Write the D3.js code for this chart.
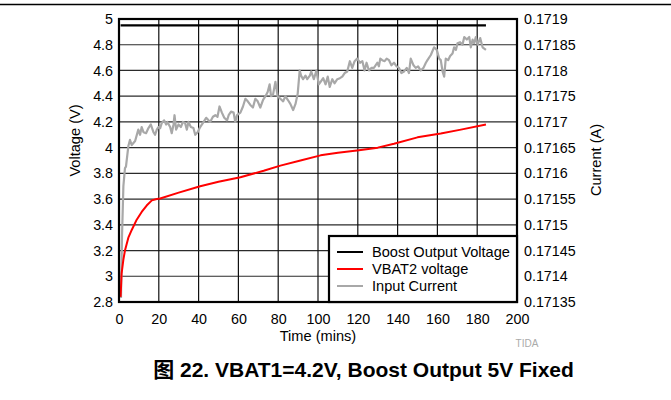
<!DOCTYPE html>
<html>
<head>
<meta charset="utf-8">
<script src="https://cdn.jsdelivr.net/npm/d3@7"></script>
<style>
  body { margin: 0; background: #fff; }
  svg { display: block; font-family: "Liberation Sans", Arial, "Noto Sans CJK SC", sans-serif; }
</style>
</head>
<body>
<div id="chart"></div>
<script>
// chart values
var voltTicks = [2.8, 3, 3.2, 3.4, 3.6, 3.8, 4, 4.2, 4.4, 4.6, 4.8, 5];
var currTicks = [0.17135, 0.1714, 0.17145, 0.1715, 0.17155, 0.1716, 0.17165, 0.1717, 0.17175, 0.1718, 0.17185, 0.1719];
var currTickLabels = ["0.17135", "0.1714", "0.17145", "0.1715", "0.17155", "0.1716", "0.17165", "0.1717", "0.17175", "0.1718", "0.17185", "0.1719"];
var timeTicks = [0, 20, 40, 60, 80, 100, 120, 140, 160, 180, 200];

var boostTime = [0.8, 60, 120, 184.4];
var boostVolt = [4.95, 4.95, 4.95, 4.95];

var vbatTime = [0.8, 1.3, 2.2, 3.0, 4.7, 6.4, 8.9, 11.4, 13.9, 16.5, 19.0, 20.7, 30, 40.8, 50, 61.0, 72.7, 81.1, 91.2, 101.3, 110, 120.6, 130, 138.2, 150.0, 161.7, 171.8, 184.4];
var vbatVolt = [2.84, 3.02, 3.13, 3.20, 3.30, 3.36, 3.44, 3.50, 3.55, 3.59, 3.60, 3.605, 3.65, 3.70, 3.735, 3.77, 3.82, 3.86, 3.90, 3.94, 3.96, 3.98, 4.00, 4.03, 4.08, 4.11, 4.14, 4.18];

var currTime = [1.0, 1.5, 2.2, 3.0, 3.5, 4.7, 5.5, 6.4, 8.1, 9.7, 10.6, 11.4, 12.3, 13.6, 14.8, 16.0, 17.3, 18.1, 19.0, 19.8,
  20.7, 21.5, 22.7, 23.7, 24.3, 25.7, 26.5, 27.4, 27.9, 28.7, 29.9, 31.1, 32.1, 33.2, 34.1, 34.9, 36.1, 37.4, 38.3, 39.5,
  40.8, 42.2, 43.8, 45.0, 45.8, 47.2, 48.4, 49.5, 50.5, 51.7, 52.9, 54.3, 55.1, 56.3, 57.6, 58.4, 59.3, 61.0, 62.3, 63.5,
  64.7, 66.0, 67.3, 68.5, 69.7, 71.0, 72.4, 73.6, 74.7, 75.7, 76.4, 77.4, 78.6, 79.7, 81.1, 82.5, 83.6, 84.8, 86.1, 87.5,
  88.7, 89.8, 90.8, 91.5, 92.5, 93.7, 94.6, 95.9, 96.6, 97.9, 99.2, 100.4, 101.3, 102.6, 103.8, 104.9, 105.9, 107.2, 108.3, 109.7,
  111.0, 112.2, 113.4, 114.7, 116.0, 117.2, 118.4, 119.7, 121.1, 122.3, 123.4, 124.4, 125.6, 126.8, 128.1, 129.8, 130.6, 131.3, 132.3, 133.5,
  134.5, 135.7, 136.9, 138.2, 139.5, 140.7, 141.9, 143.2, 144.6, 145.7, 146.6, 148.0, 149.1, 150.3, 151.6, 153.0, 154.2, 155.0, 156.7, 158.3,
  159.7, 160.9, 161.7, 162.6, 163.4, 164.2, 165.4, 166.4, 167.6, 168.4, 169.3, 170.1, 171.4, 172.6, 173.5, 174.8, 176.0, 176.8, 177.7, 178.5,
  179.3, 180.2, 181.5, 182.7, 184.4];
var currAmp = [0.171358, 0.171475, 0.171575, 0.17161, 0.171613, 0.171653, 0.171665, 0.171655, 0.171663, 0.171685, 0.171675, 0.17169, 0.17168, 0.171678, 0.171688, 0.171695, 0.17168, 0.171675, 0.171685, 0.17169,
  0.171688, 0.171698, 0.171703, 0.171695, 0.1717, 0.17169, 0.171678, 0.171695, 0.171713, 0.171685, 0.171695, 0.17169, 0.1717, 0.171698, 0.171685, 0.1717, 0.17169, 0.171688, 0.171675, 0.17168,
  0.17169, 0.171698, 0.171708, 0.171703, 0.1717, 0.17171, 0.171713, 0.17171, 0.17173, 0.171718, 0.171708, 0.171703, 0.171713, 0.17172, 0.171718, 0.1717, 0.171713, 0.171718, 0.17173, 0.171745,
  0.17174, 0.171733, 0.171728, 0.171745, 0.17174, 0.171728, 0.171743, 0.17175, 0.171758, 0.171773, 0.17175, 0.171753, 0.171778, 0.17175, 0.171745, 0.17174, 0.17175, 0.171743, 0.171735, 0.171723,
  0.171735, 0.171755, 0.1718, 0.17179, 0.171783, 0.17179, 0.171783, 0.17179, 0.171798, 0.171783, 0.1718, 0.171773, 0.171778, 0.171785, 0.171773, 0.171788, 0.171768, 0.171783, 0.171775, 0.171783,
  0.171785, 0.171788, 0.171795, 0.171798, 0.171818, 0.171805, 0.171818, 0.171823, 0.171815, 0.171818, 0.1718, 0.171815, 0.1718, 0.171805, 0.171805, 0.171815, 0.171808, 0.171823, 0.17182, 0.171818,
  0.171823, 0.17182, 0.17181, 0.171815, 0.171808, 0.171805, 0.171795, 0.171798, 0.171805, 0.171795, 0.171823, 0.17181, 0.171805, 0.171808, 0.1718, 0.171805, 0.171815, 0.17182, 0.17183, 0.171845,
  0.17184, 0.171823, 0.17182, 0.171798, 0.171788, 0.171823, 0.17182, 0.171828, 0.171833, 0.171845, 0.17184, 0.171853, 0.171855, 0.17185, 0.171865, 0.17186, 0.171865, 0.171845, 0.17186, 0.171853,
  0.171865, 0.17185, 0.171863, 0.171845, 0.17184];

var legendNames = ["Boost Output Voltage", "VBAT2 voltage", "Input Current"];
var legendColors = ["#000000", "#ff0000", "#a8a8a8"];

var svgWidth = 671;
var svgHeight = 400;
var margin = { top: 19, right: 154, bottom: 98, left: 119 };
var width = svgWidth - margin.left - margin.right;   // 398
var height = svgHeight - margin.top - margin.bottom; // 283

var svg = d3.select("#chart")
  .append("svg")
  .attr("width", svgWidth)
  .attr("height", svgHeight);

// page header rule
svg.append("line")
  .attr("x1", 0).attr("x2", svgWidth)
  .attr("y1", 4.5).attr("y2", 4.5)
  .attr("stroke", "#000").attr("stroke-width", 1.3);

var chartGroup = svg.append("g")
  .attr("transform", `translate(${margin.left}, ${margin.top})`);

// scales
var xScale = d3.scaleLinear().domain([0, 200]).range([0, width]);
var yVolt = d3.scaleLinear().domain([2.8, 5]).range([height, 0]);
var yCurr = d3.scaleLinear().domain([0.17135, 0.1719]).range([height, 0]);

// grid
chartGroup.selectAll(".hgrid")
  .data(voltTicks)
  .enter()
  .append("line")
  .attr("x1", 0).attr("x2", width)
  .attr("y1", d => yVolt(d)).attr("y2", d => yVolt(d))
  .attr("stroke", "#2b2b2b").attr("stroke-width", 1.2);

chartGroup.selectAll(".vgrid")
  .data(timeTicks)
  .enter()
  .append("line")
  .attr("y1", 0).attr("y2", height)
  .attr("x1", d => xScale(d)).attr("x2", d => xScale(d))
  .attr("stroke", "#111").attr("stroke-width", 1.2);

// axes
var leftAxis = d3.axisLeft(yVolt).tickValues(voltTicks).tickSize(0).tickPadding(6)
  .tickFormat(d => String(d));
var rightAxis = d3.axisRight(yCurr).tickValues(currTicks).tickSize(0).tickPadding(7)
  .tickFormat((d, i) => currTickLabels[i]);
var bottomAxis = d3.axisBottom(xScale).tickValues(timeTicks).tickSize(0).tickPadding(12)
  .tickFormat(d => String(d));

function styleAxis(g) {
  g.select(".domain").remove();
  g.selectAll("text").attr("font-size", 14.3).attr("fill", "#000")
    .attr("font-family", "\"Liberation Sans\", Arial, sans-serif");
}

chartGroup.append("g").call(leftAxis).call(styleAxis);
chartGroup.append("g").attr("transform", `translate(${width}, 0)`).call(rightAxis).call(styleAxis);
chartGroup.append("g").attr("transform", `translate(0, ${height})`).call(bottomAxis).call(styleAxis);

// lines
var lineV = function(times, vals) {
  return d3.line().x((d, i) => xScale(times[i])).y(d => yVolt(d))(vals);
};
var lineI = d3.line().x((d, i) => xScale(currTime[i])).y(d => yCurr(d));

chartGroup.append("path")
  .attr("d", lineI(currAmp))
  .attr("fill", "none").attr("stroke", legendColors[2]).attr("stroke-width", 2.2)
  .attr("stroke-linejoin", "round");

chartGroup.append("path")
  .attr("d", lineV(vbatTime, vbatVolt))
  .attr("fill", "none").attr("stroke", legendColors[1]).attr("stroke-width", 2)
  .attr("stroke-linejoin", "round");

chartGroup.append("path")
  .attr("d", lineV(boostTime, boostVolt))
  .attr("fill", "none").attr("stroke", legendColors[0]).attr("stroke-width", 2.2);

// frame
chartGroup.append("rect")
  .attr("x", 0).attr("y", 0).attr("width", width).attr("height", height)
  .attr("fill", "none").attr("stroke", "#000").attr("stroke-width", 2.2);

// legend
var legend = chartGroup.append("g")
  .attr("transform", `translate(${329 - margin.left}, ${236 - margin.top})`);

legend.append("rect")
  .attr("x", 0).attr("y", 0).attr("width", width - (329 - margin.left)).attr("height", height - (236 - margin.top))
  .attr("fill", "#fff").attr("stroke", "#000").attr("stroke-width", 2.2);

var items = legend.selectAll(".item")
  .data(legendNames)
  .enter()
  .append("g")
  .attr("transform", (d, i) => `translate(0, ${16 + i * 17})`);

items.append("line")
  .attr("x1", 8).attr("x2", 34).attr("y1", 0).attr("y2", 0)
  .attr("stroke", (d, i) => legendColors[i]).attr("stroke-width", 2);

items.append("text")
  .attr("x", 43).attr("y", 0).attr("dy", "0.35em")
  .attr("font-size", 14.6)
  .text(d => d);

// axis titles
chartGroup.append("text")
  .attr("transform", "rotate(-90)")
  .attr("x", 0 - (height / 2) + 20)
  .attr("y", 75 - margin.left)
  .attr("dy", "0.35em")
  .attr("text-anchor", "middle")
  .attr("font-size", 14.6)
  .text("Voltage (V)");

chartGroup.append("text")
  .attr("transform", `translate(${596 - margin.left}, ${160 - margin.top}) rotate(-90)`)
  .attr("dy", "0.35em")
  .attr("text-anchor", "middle")
  .attr("font-size", 14.6)
  .text("Current (A)");

chartGroup.append("text")
  .attr("x", 318 - margin.left)
  .attr("y", 336 - margin.top)
  .attr("dy", "0.35em")
  .attr("text-anchor", "middle")
  .attr("font-size", 14.6)
  .text("Time (mins)");

svg.append("text")
  .attr("x", 527).attr("y", 343)
  .attr("dy", "0.35em")
  .attr("text-anchor", "middle")
  .attr("font-size", 10)
  .attr("fill", "#aaa")
  .text("TIDA");

svg.append("text")
  .attr("x", 363.5).attr("y", 370)
  .attr("dy", "0.35em")
  .attr("text-anchor", "middle")
  .attr("font-size", 21)
  .attr("font-weight", "bold")
  .text("图 22. VBAT1=4.2V, Boost Output 5V Fixed");
</script>
</body>
</html>
